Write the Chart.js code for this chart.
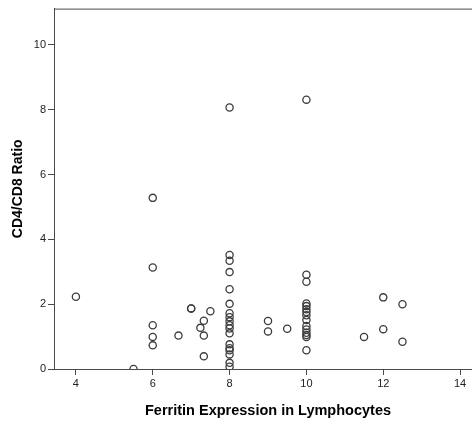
<!DOCTYPE html>
<html>
<head>
<meta charset="utf-8">
<script src="https://cdn.jsdelivr.net/npm/chart.js@4"></script>
<style>
  html, body { margin: 0; padding: 0; background: #fff; overflow: hidden; }
  #wrap { width: 472px; height: 421px; position: relative; overflow: hidden; }
  #c { display: block; }
</style>
</head>
<body>
<div id="wrap"><canvas id="c" width="482" height="421"></canvas></div>
<script>
// Data
const ferritin = [
  4, 5.5,
  6, 6, 6, 6, 6,
  6.67, 7, 7, 7.24, 7.33, 7.33, 7.33, 7.5,
  8, 8, 8, 8, 8, 8, 8, 8, 8, 8, 8, 8, 8, 8, 8, 8, 8, 8,
  9, 9, 9.5,
  10, 10, 10, 10, 10, 10, 10, 10, 10, 10, 10, 10, 10, 10, 10,
  11.5, 12, 12, 12.5, 12.5
];
const cd4cd8 = [
  2.23, 0.0,
  5.28, 3.13, 1.35, 0.99, 0.73,
  1.03, 1.87, 1.87, 1.27, 1.49, 1.03, 0.39, 1.78,
  8.07, 3.52, 3.34, 2.99, 2.46, 2.01, 1.72, 1.60, 1.47, 1.35, 1.25, 1.10, 0.76, 0.64, 0.58, 0.45, 0.19, 0.07,
  1.48, 1.16, 1.24,
  8.31, 2.91, 2.69, 2.02, 1.94, 1.84, 1.76, 1.66, 1.51, 1.33, 1.22, 1.12, 1.05, 0.99, 0.58,
  0.99, 2.21, 1.23, 2.00, 0.84
];
const xTitle = 'Ferritin Expression in Lymphocytes';
const yTitle = 'CD4/CD8 Ratio';

const points = ferritin.map((x, i) => ({ x: x, y: cd4cd8[i] }));

const axisColor = '#4a4a4a';
const fontFam = '"Liberation Sans", Arial, sans-serif';

const topBorder = {
  id: 'topBorder',
  afterDraw(chart) {
    const { ctx, chartArea } = chart;
    ctx.save();
    ctx.strokeStyle = axisColor;
    ctx.lineWidth = 1;
    ctx.beginPath();
    ctx.moveTo(chartArea.left, chartArea.top + 0.5);
    ctx.lineTo(chartArea.right, chartArea.top + 0.5);
    ctx.stroke();
    ctx.restore();
  }
};

new Chart(document.getElementById('c'), {
  type: 'scatter',
  data: {
    datasets: [{
      data: points,
      pointRadius: 3.6,
      pointHoverRadius: 3.6,
      pointBorderWidth: 1.3,
      pointBorderColor: '#3c3c3c',
      pointBackgroundColor: 'rgba(0,0,0,0)',
      clip: 0
    }]
  },
  options: {
    responsive: false,
    animation: false,
    events: [],
    layout: { autoPadding: false, padding: { left: 0, right: 0, top: 7, bottom: 0 } },
    plugins: { legend: { display: false }, tooltip: { enabled: false } },
    scales: {
      x: {
        type: 'linear',
        min: 3.43,
        max: 14.57,
        afterFit(scale) { scale.height = 52; },
        border: { display: true, color: axisColor, width: 1 },
        grid: { drawOnChartArea: false, drawTicks: true, tickLength: 6, color: axisColor },
        ticks: {
          stepSize: 2,
          includeBounds: false,
          padding: 2,
          color: '#222',
          maxRotation: 0,
          font: { family: fontFam, size: 11 }
        },
        title: {
          display: true,
          text: xTitle,
          color: '#000',
          padding: { top: 0, bottom: 1.5 },
          font: { family: fontFam, size: 14.5, weight: 'bold' }
        }
      },
      y: {
        type: 'linear',
        min: 0,
        max: 11.12,
        afterFit(scale) { scale.width = 54; },
        border: { display: true, color: axisColor, width: 1 },
        grid: { drawOnChartArea: false, drawTicks: true, tickLength: 6, color: axisColor },
        ticks: {
          stepSize: 2,
          includeBounds: false,
          padding: 2,
          color: '#222',
          font: { family: fontFam, size: 11 }
        },
        title: {
          display: true,
          text: yTitle,
          color: '#000',
          padding: { top: 9.5, bottom: 0 },
          font: { family: fontFam, size: 14, weight: 'bold' }
        }
      }
    }
  },
  plugins: [topBorder]
});
</script>
</body>
</html>
